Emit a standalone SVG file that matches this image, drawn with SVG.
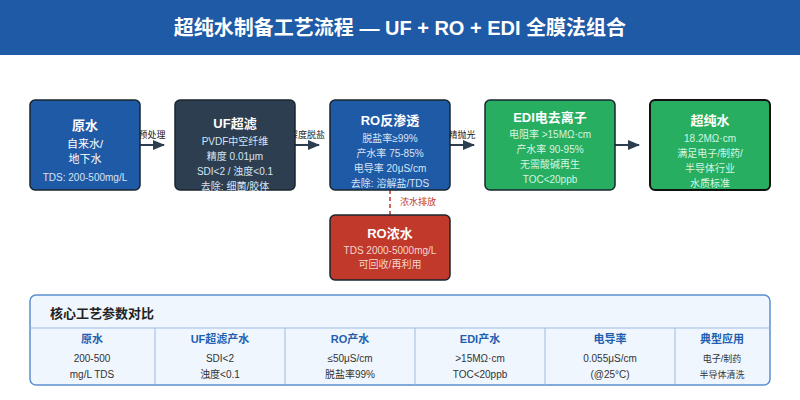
<svg xmlns="http://www.w3.org/2000/svg" width="800" height="400" viewBox="0 0 800 400">
<defs>
<marker id="ah" markerWidth="12" markerHeight="10" refX="11" refY="5" orient="auto" markerUnits="userSpaceOnUse"><path d="M0,0 L12,5 L0,10 z" fill="#2c3e50"/></marker>
<style>
text{font-family:"Liberation Sans","Noto Sans CJK SC",sans-serif;text-anchor:middle}
.t{font-size:13px;font-weight:bold;fill:#fff}
.s{font-size:10px;fill:#d6e4f5}
.w{font-size:11px;fill:#fff}
.box{stroke:#1a252f;stroke-width:1.5}
.lbl{font-size:9px;fill:#222}
.hd{font-size:11px;font-weight:bold;fill:#1f5fb0}
.c{font-size:10px;fill:#333}
.conn{stroke:#2c3e50;stroke-width:2;fill:none}
</style>
</defs>
<rect width="800" height="400" fill="#f4f6f9"/>
<rect width="800" height="55" fill="#1f5aa6"/>
<text x="400" y="35" style="font-size:20px;font-weight:bold;fill:#fff">超纯水制备工艺流程 — UF + RO + EDI 全膜法组合</text>
<rect x="0" y="55" width="800" height="345" fill="#fff"/>

<g id="connectors">
<line class="conn" x1="140" y1="145" x2="164" y2="145" marker-end="url(#ah)"/>
<text class="lbl" x="152" y="138">预处理</text>
<line class="conn" x1="295" y1="145" x2="319" y2="145" marker-end="url(#ah)"/>
<text class="lbl" x="307" y="138">深度脱盐</text>
<line class="conn" x1="450" y1="145" x2="474" y2="145" marker-end="url(#ah)"/>
<text class="lbl" x="462" y="138">精抛光</text>
<line class="conn" x1="615" y1="145" x2="639" y2="145" marker-end="url(#ah)"/>
<line x1="390" y1="190" x2="390" y2="215" stroke="#c0392b" stroke-width="1.5" stroke-dasharray="4,3"/>
<text x="418" y="205" style="font-size:9px;fill:#c0392b">浓水排放</text>
</g>

<g id="raw">
<rect class="box" x="30" y="100" width="110" height="90" rx="5" fill="#1f5aa6"/>
<text class="t" x="85" y="130">原水</text>
<text class="w" x="85" y="148">自来水/</text>
<text class="w" x="85" y="163">地下水</text>
<text class="s" x="85" y="181">TDS: 200-500mg/L</text>
</g>
<g id="uf">
<rect class="box" x="175" y="100" width="120" height="90" rx="5" fill="#2c3e50"/>
<text class="t" x="235" y="128">UF超滤</text>
<text class="s" x="235" y="145">PVDF中空纤维</text>
<text class="s" x="235" y="160">精度 0.01μm</text>
<text class="s" x="235" y="175">SDI&lt;2 / 浊度&lt;0.1</text>
<text class="s" x="235" y="190">去除: 细菌/胶体</text>
</g>
<g id="ro">
<rect class="box" x="330" y="100" width="120" height="90" rx="5" fill="#1f5aa6"/>
<text class="t" x="390" y="125">RO反渗透</text>
<text class="s" x="390" y="142">脱盐率≥99%</text>
<text class="s" x="390" y="157">产水率 75-85%</text>
<text class="s" x="390" y="172">电导率 20μS/cm</text>
<text class="s" x="390" y="187">去除: 溶解盐/TDS</text>
</g>
<g id="edi">
<rect class="box" x="485" y="100" width="130" height="90" rx="5" fill="#27ae60"/>
<text class="t" x="550" y="122">EDI电去离子</text>
<text class="s" x="550" y="138" style="fill:#d5f5e0">电阻率 &gt;15MΩ·cm</text>
<text class="s" x="550" y="153" style="fill:#d5f5e0">产水率 90-95%</text>
<text class="s" x="550" y="168" style="fill:#d5f5e0">无需酸碱再生</text>
<text class="s" x="550" y="183" style="fill:#d5f5e0">TOC&lt;20ppb</text>
</g>
<g id="upw">
<rect x="650" y="100" width="120" height="90" rx="5" fill="#27ae60" stroke="#111" stroke-width="2"/>
<text class="t" x="710" y="125">超纯水</text>
<text class="s" x="710" y="142" style="fill:#d5f5e0">18.2MΩ·cm</text>
<text class="s" x="710" y="157" style="fill:#d5f5e0">满足电子/制药/</text>
<text class="s" x="710" y="172" style="fill:#d5f5e0">半导体行业</text>
<text class="s" x="710" y="187" style="fill:#d5f5e0">水质标准</text>
</g>
<g id="conc">
<rect class="box" x="330" y="215" width="120" height="65" rx="5" fill="#c0392b"/>
<text class="t" x="390" y="238">RO浓水</text>
<text class="s" x="390" y="254" style="fill:#f5d5d0">TDS 2000-5000mg/L</text>
<text class="s" x="390" y="268" style="fill:#f5d5d0">可回收/再利用</text>
</g>

<g id="table">
<rect x="30" y="295" width="740" height="90" rx="6" fill="#f0f6fd" stroke="#5b8fd0" stroke-width="1.5"/>
<text x="50" y="318" style="font-size:13px;font-weight:bold;fill:#222;text-anchor:start">核心工艺参数对比</text>
<line x1="30" y1="328" x2="770" y2="328" stroke="#9bbbe3" stroke-width="1"/>
<g stroke="#9bbbe3" stroke-width="1">
<line x1="155" y1="328" x2="155" y2="385"/><line x1="285" y1="328" x2="285" y2="385"/>
<line x1="415" y1="328" x2="415" y2="385"/><line x1="545" y1="328" x2="545" y2="385"/>
<line x1="675" y1="328" x2="675" y2="385"/>
</g>
<text class="hd" x="92" y="343">原水</text>
<text class="c" x="92" y="362">200-500</text>
<text class="c" x="92" y="378">mg/L TDS</text>
<text class="hd" x="220" y="343">UF超滤产水</text>
<text class="c" x="220" y="362">SDI&lt;2</text>
<text class="c" x="220" y="378">浊度&lt;0.1</text>
<text class="hd" x="350" y="343">RO产水</text>
<text class="c" x="350" y="362">≤50μS/cm</text>
<text class="c" x="350" y="378">脱盐率99%</text>
<text class="hd" x="480" y="343">EDI产水</text>
<text class="c" x="480" y="362">&gt;15MΩ·cm</text>
<text class="c" x="480" y="378">TOC&lt;20ppb</text>
<text class="hd" x="610" y="343">电导率</text>
<text class="c" x="610" y="362">0.055μS/cm</text>
<text class="c" x="610" y="378">(@25°C)</text>
<text class="hd" x="722" y="343">典型应用</text>
<text class="c" x="722" y="362" style="font-size:9px">电子/制药</text>
<text class="c" x="722" y="378" style="font-size:9px">半导体清洗</text>
</g>
</svg>
